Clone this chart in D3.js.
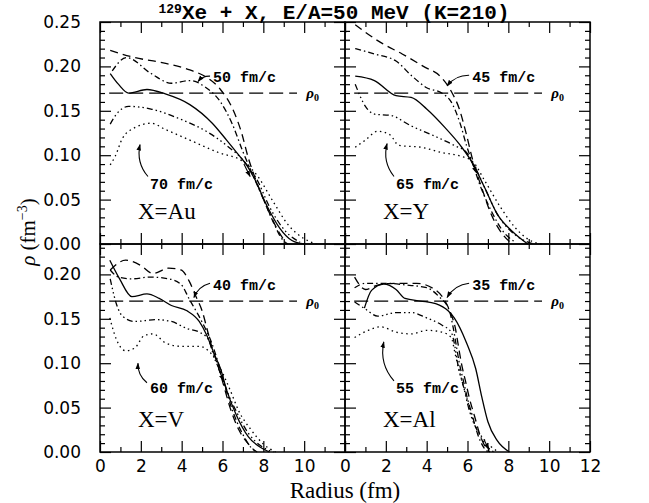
<!DOCTYPE html>
<html><head><meta charset="utf-8">
<script src="https://cdn.jsdelivr.net/npm/d3@7"></script>
<style>body{margin:0;background:#fff}svg{display:block}</style>
</head><body>
<svg id="c" width="649" height="503"></svg>
<script>
// ---------- data ----------
const panelNames = ["Au", "Y", "V", "Al"];
const earlyLabels = ["50 fm/c", "45 fm/c", "40 fm/c", "35 fm/c"];
const lateLabels  = ["70 fm/c", "65 fm/c", "60 fm/c", "55 fm/c"];
const rho0 = 0.17;
const xTickLabelsLeft  = [0, 2, 4, 6, 8, 10];
const xTickLabelsRight = [0, 2, 4, 6, 8, 10, 12];
const yTickLabelsTop    = [0, 0.05, 0.10, 0.15, 0.20, 0.25];
const yTickLabelsBottom = [0, 0.05, 0.10, 0.15, 0.20];

// X = Au
const auDashed  = [[0.5,0.218],[1.7,0.210],[3.1,0.204],[4.4,0.196],[5.2,0.188],[5.9,0.174],[6.5,0.152],[6.95,0.124],[7.25,0.098],[7.6,0.074],[8.2,0.040],[8.8,0.012],[9.1,0.002]];
const auDashDot = [[0.6,0.195],[1.3,0.21],[2.5,0.192],[3.5,0.181],[4.4,0.184],[5.2,0.176],[5.9,0.16],[6.5,0.134],[7.0,0.104],[7.4,0.082],[7.9,0.056],[8.5,0.024],[8.9,0.006],[9.2,0]];
const auSolid   = [[0.5,0.192],[0.9,0.18],[1.4,0.170],[2.3,0.174],[3.2,0.169],[4.4,0.157],[5.5,0.136],[6.2,0.117],[6.8,0.100],[7.15,0.090],[7.6,0.072],[8.2,0.042],[8.8,0.018],[9.4,0.004],[10,0]];
const auDDD     = [[0.5,0.135],[0.8,0.146],[1.4,0.155],[2.5,0.152],[4.0,0.14],[5.2,0.127],[6.2,0.111],[7.1,0.092],[7.7,0.072],[8.3,0.042],[9.1,0.014],[9.8,0.002]];
const auDotted  = [[0.5,0.089],[0.75,0.099],[1.1,0.119],[1.7,0.131],[2.5,0.136],[3.2,0.129],[4.4,0.117],[5.8,0.103],[7.0,0.093],[7.7,0.077],[8.5,0.047],[9.2,0.022],[10,0.006],[10.6,0]];
// X = Y
const yDashed   = [[0.5,0.247],[1.74,0.227],[2.8,0.214],[3.84,0.2],[4.7,0.188],[5.2,0.172],[5.6,0.152],[5.95,0.123],[6.25,0.095],[6.7,0.063],[7.15,0.034],[7.75,0.01],[8.2,0]];
const yDashDot  = [[0.5,0.22],[1.44,0.214],[2.5,0.206],[3.24,0.19],[4.0,0.176],[4.74,0.17],[5.2,0.16],[5.65,0.135],[5.95,0.111],[6.25,0.091],[6.6,0.067],[7.15,0.038],[7.75,0.014],[8.35,0.002]];
const ySolid    = [[0.5,0.189],[1.44,0.184],[2.5,0.167],[3.24,0.165],[4.0,0.152],[4.9,0.131],[5.65,0.111],[6.25,0.091],[6.85,0.063],[7.45,0.034],[8.2,0.014],[8.95,0]];
const yDDD      = [[0.5,0.18],[1.0,0.155],[1.5,0.146],[2.2,0.145],[3.24,0.133],[4.44,0.121],[5.35,0.111],[5.95,0.103],[6.4,0.085],[6.85,0.063],[7.45,0.034],[8.35,0.01],[9.25,0]];
const yDotted   = [[0.5,0.109],[1.0,0.117],[1.6,0.127],[2.2,0.123],[2.64,0.111],[3.7,0.109],[4.74,0.103],[5.65,0.099],[6.25,0.093],[6.85,0.071],[7.6,0.042],[8.35,0.018],[9.25,0.002],[9.7,0]];
// X = V
const vDashed   = [[0.5,0.205],[1.26,0.216],[2.0,0.21],[2.6,0.201],[3.36,0.207],[3.96,0.205],[4.4,0.191],[4.7,0.175],[5.0,0.159],[5.24,0.139],[5.47,0.119],[5.77,0.098],[6.07,0.074],[6.37,0.05],[6.8,0.025],[7.27,0.009],[7.6,0.001]];
const vDashDot  = [[0.5,0.205],[0.9,0.197],[1.56,0.195],[2.46,0.197],[3.36,0.195],[3.96,0.189],[4.4,0.171],[4.8,0.155],[5.16,0.139],[5.47,0.123],[5.77,0.102],[6.07,0.078],[6.44,0.05],[6.97,0.021],[7.4,0.005],[7.7,0]];
const vSolid    = [[0.48,0.216],[0.96,0.195],[1.56,0.175],[2.3,0.178],[2.9,0.173],[3.5,0.165],[4.26,0.159],[4.86,0.147],[5.24,0.131],[5.6,0.11],[5.9,0.094],[6.2,0.07],[6.67,0.042],[7.27,0.017],[7.87,0.005],[8.3,0]];
const vDDD      = [[0.5,0.195],[0.8,0.167],[1.1,0.153],[1.7,0.147],[2.76,0.149],[3.5,0.147],[4.26,0.139],[4.86,0.135],[5.3,0.127],[5.6,0.106],[5.9,0.09],[6.2,0.07],[6.67,0.046],[7.27,0.021],[7.87,0.007],[8.5,0]];
const vDotted   = [[0.48,0.151],[0.8,0.127],[1.26,0.114],[1.7,0.117],[2.16,0.131],[2.6,0.133],[3.2,0.123],[3.96,0.119],[4.86,0.119],[5.47,0.11],[5.9,0.094],[6.37,0.07],[6.8,0.046],[7.4,0.025],[8.0,0.009],[8.6,0]];
// X = Al
const alDashed  = [[0.47,0.197],[1.0,0.183],[1.6,0.188],[2.5,0.19],[3.5,0.19],[4.4,0.183],[4.9,0.17],[5.2,0.155],[5.4,0.14],[5.55,0.12],[5.7,0.1],[5.9,0.08],[6.1,0.06],[6.35,0.04],[6.6,0.02],[6.9,0.005],[7.1,0]];
const alDashDot = [[0.47,0.185],[1.0,0.19],[2.0,0.19],[3.0,0.188],[4.0,0.185],[4.6,0.175],[5.1,0.16],[5.3,0.14],[5.45,0.12],[5.6,0.1],[5.8,0.08],[6.0,0.06],[6.25,0.04],[6.5,0.02],[6.8,0.005],[7.0,0]];
const alSolid   = [[0.95,0.162],[1.3,0.182],[1.9,0.189],[2.5,0.183],[2.94,0.173],[3.7,0.170],[4.44,0.167],[5.05,0.159],[5.35,0.151],[5.95,0.123],[6.4,0.094],[6.7,0.062],[7.0,0.034],[7.45,0.013],[8.05,0]];
const alDDD     = [[0.47,0.169],[1.0,0.161],[1.6,0.153],[2.5,0.157],[3.24,0.157],[4.0,0.151],[4.74,0.143],[5.2,0.135],[5.35,0.123],[5.5,0.102],[5.8,0.074],[6.1,0.046],[6.55,0.021],[7.0,0.005],[7.3,0]];
const alDotted  = [[0.47,0.129],[1.14,0.137],[1.74,0.141],[2.5,0.135],[3.24,0.133],[4.0,0.137],[4.74,0.135],[5.2,0.129],[5.4,0.11],[5.65,0.086],[5.95,0.062],[6.3,0.034],[6.85,0.013],[7.45,0.001]];

// annotation anchors (data units): [textX, textY, arrowFromX, arrowFromY, arrowToX, arrowToY]
const earlyAnno = [[5.54,0.182,5.39,0.189,4.80,0.183],[6.23,0.182,6.08,0.190,5.00,0.178],[5.54,0.182,5.39,0.190,4.60,0.174],[6.23,0.182,6.08,0.190,5.00,0.174]];
const lateAnno  = [[2.45,0.062,2.35,0.076,1.96,0.112],[2.50,0.062,2.40,0.076,2.06,0.113],[2.45,0.066,2.30,0.078,1.86,0.100],[2.50,0.066,2.40,0.080,1.90,0.124]];
const nucleusPos = [[1.86,0.028],[1.86,0.028],[1.86,0.028],[1.86,0.028]];
// small arrows at the crossing points: [fromX, fromY, toX, toY]
const crossArrows = [[7.05,0.090,7.35,0.076],[6.15,0.095,6.45,0.080],[5.8,0.094,6.05,0.080],[6.8,0.014,7.05,0.003]];

// ---------- layout ----------
const panelCurves = [
  [auDashed, auDashDot, auSolid, auDDD, auDotted],
  [yDashed, yDashDot, ySolid, yDDD, yDotted],
  [vDashed, vDashDot, vSolid, vDDD, vDotted],
  [alDashed, alDashDot, alSolid, alDDD, alDotted]
];
const styles = [
  {dash: "8,5"},
  {dash: "6,3,1.5,3"},
  {dash: null},
  {dash: "6,3,1.5,3,1.5,3,1.5,3"},
  {dash: "1.5,3.5"}
];
const L = 100, T = 22, MID = 244, B = 452, PW = 245;
const KY = (MID - T) / 0.25;   // px per density unit
const panelTop = [T, MID];
const panelBottom = [MID, B];
const svg = d3.select("#c");
const sans = "'DejaVu Sans', sans-serif";
const mono = "'Liberation Mono', 'DejaVu Sans Mono', monospace";
const serif = "'Liberation Serif', 'DejaVu Serif', serif";

const defs = svg.append("defs");
defs.append("marker")
  .attr("id","ah").attr("viewBox","0 0 10 10").attr("refX",9).attr("refY",5)
  .attr("markerWidth",6).attr("markerHeight",6).attr("orient","auto")
  .append("path").attr("d","M0,1.5 L10,5 L0,8.5 Z").attr("fill","#000");

panelNames.forEach((name, i) => {
  const col = i % 2, row = Math.floor(i / 2);
  const x0 = L + col * PW, yTop = panelTop[row], yBot = panelBottom[row];
  const yMaxVal = (yBot - yTop) / KY;
  const x = d3.scaleLinear().domain([0, 12]).range([x0, x0 + PW]);
  const y = d3.scaleLinear().domain([0, yMaxVal]).range([yBot, yTop]);
  const g = svg.append("g");

  // ticks (inward)
  const tk = (axis, tr, vals, size) => g.append("g").attr("transform", tr)
      .call(axis.tickValues(vals).tickSize(size).tickFormat(""))
      .call(s => s.select(".domain").remove())
      .call(s => s.selectAll("line").attr("stroke","#000").attr("stroke-width",1.2));
  const xMaj = d3.range(0, 13, 2), xMin = d3.range(1, 12, 2);
  const yAll = d3.range(0, yMaxVal + 1e-6, 0.01);
  const yMaj = yAll.filter(v => Math.abs(v/0.05 - Math.round(v/0.05)) < 1e-6);
  const yMin = yAll.filter(v => Math.abs(v/0.05 - Math.round(v/0.05)) >= 1e-6);
  tk(d3.axisTop(x), `translate(0,${yBot})`, xMaj, 11);
  tk(d3.axisTop(x), `translate(0,${yBot})`, xMin, 5);
  tk(d3.axisBottom(x), `translate(0,${yTop})`, xMaj, 11);
  tk(d3.axisBottom(x), `translate(0,${yTop})`, xMin, 5);
  tk(d3.axisRight(y), `translate(${x0},0)`, yMaj, 11);
  tk(d3.axisRight(y), `translate(${x0},0)`, yMin, 5);
  tk(d3.axisLeft(y), `translate(${x0+PW},0)`, yMaj, 11);
  tk(d3.axisLeft(y), `translate(${x0+PW},0)`, yMin, 5);

  // frame
  g.append("rect").attr("x", x0).attr("y", yTop).attr("width", PW).attr("height", yBot - yTop)
    .attr("fill","none").attr("stroke","#000").attr("stroke-width",1.5);

  // labels
  if (col === 0) {
    g.append("g").attr("transform", `translate(${x0},0)`)
      .call(d3.axisLeft(y).tickValues(row === 0 ? yTickLabelsTop : yTickLabelsBottom)
        .tickSize(0).tickPadding(19).tickFormat(d3.format(".2f")))
      .call(s => s.select(".domain").remove())
      .call(s => s.selectAll("text").attr("font-family", sans).attr("font-size", 17).attr("fill","#000"));
  }
  if (row === 1) {
    g.append("g").attr("transform", `translate(0,${yBot})`)
      .call(d3.axisBottom(x).tickValues(col === 0 ? xTickLabelsLeft : xTickLabelsRight)
        .tickSize(0).tickPadding(8).tickFormat(d3.format("d")))
      .call(s => s.select(".domain").remove())
      .call(s => s.selectAll("text").attr("font-family", sans).attr("font-size", 17).attr("fill","#000"));
  }

  // rho0 line
  g.append("line").attr("x1", x(0.45)).attr("x2", x(9.65)).attr("y1", y(rho0)).attr("y2", y(rho0))
    .attr("stroke","#000").attr("stroke-width",1.2).attr("stroke-dasharray","14,6");
  const r0 = g.append("text").attr("x", x(10.1)).attr("y", y(rho0) + 5)
    .attr("font-family", serif).attr("font-size", 15).attr("font-style","italic").attr("font-weight","bold");
  r0.append("tspan").text("ρ");
  r0.append("tspan").attr("dy", 3).attr("font-size", 10).attr("font-style","normal").text("0");

  // curves
  const line = d3.line().x(d => x(d[0])).y(d => y(d[1])).curve(d3.curveMonotoneX);
  panelCurves[i].forEach((c, k) => {
    g.append("path").datum(c).attr("d", line).attr("fill","none").attr("stroke","#000")
      .attr("stroke-width",1.3).attr("stroke-dasharray", styles[k].dash);
  });

  // annotations
  const a1 = earlyAnno[i], a2 = lateAnno[i];
  g.append("text").attr("x", x(a1[0])).attr("y", y(a1[1])).text(earlyLabels[i])
    .attr("font-family", mono).attr("font-weight","bold").attr("font-size", 15);
  g.append("text").attr("x", x(a2[0])).attr("y", y(a2[1])).text(lateLabels[i])
    .attr("font-family", mono).attr("font-weight","bold").attr("font-size", 15);
  const arc = (fx, fy, tx, ty, bend) => {
    const X1 = x(fx), Y1 = y(fy), X2 = x(tx), Y2 = y(ty);
    const mx = (X1 + X2) / 2, my = (Y1 + Y2) / 2;
    const dx = X2 - X1, dy = Y2 - Y1;
    const cx = mx - dy * bend, cy = my + dx * bend;
    return `M${X1},${Y1} Q${cx},${cy} ${X2},${Y2}`;
  };
  g.append("path").attr("d", arc(a1[2], a1[3], a1[4], a1[5], 0.25)).attr("fill","none")
    .attr("stroke","#000").attr("stroke-width",1.1).attr("marker-end","url(#ah)");
  g.append("path").attr("d", arc(a2[2], a2[3], a2[4], a2[5], -0.25)).attr("fill","none")
    .attr("stroke","#000").attr("stroke-width",1.1).attr("marker-end","url(#ah)");
  const ca = crossArrows[i];
  g.append("path").attr("d", `M${x(ca[0])},${y(ca[1])} L${x(ca[2])},${y(ca[3])}`)
    .attr("stroke","#000").attr("stroke-width",1.1).attr("marker-end","url(#ah)");

  g.append("text").attr("x", x(nucleusPos[i][0])).attr("y", y(nucleusPos[i][1]))
    .attr("font-family", serif).attr("font-size", 23).text("X=" + name);
});

// title
const title = svg.append("text").attr("x", 334).attr("y", 19).attr("text-anchor","middle")
  .attr("font-family", mono).attr("font-weight","bold").attr("font-size", 21);
title.append("tspan").attr("font-size", 13).attr("dy", -6).text("129");
title.append("tspan").attr("dy", 6).text("Xe + X, E/A=50 MeV (K=210)");

// axis titles
svg.append("text").attr("x", L + PW).attr("y", 498).attr("text-anchor","middle")
  .attr("font-family", serif).attr("font-size", 23).text("Radius (fm)");
const yl = svg.append("text").attr("transform", `translate(35,232) rotate(-90)`)
  .attr("text-anchor","middle").attr("font-family", serif).attr("font-size", 21);
yl.append("tspan").attr("font-style","italic").text("ρ");
yl.append("tspan").text(" (fm");
yl.append("tspan").attr("dy", -8).attr("font-size", 14).text("−3");
yl.append("tspan").attr("dy", 8).text(")");
</script>
</body></html>
